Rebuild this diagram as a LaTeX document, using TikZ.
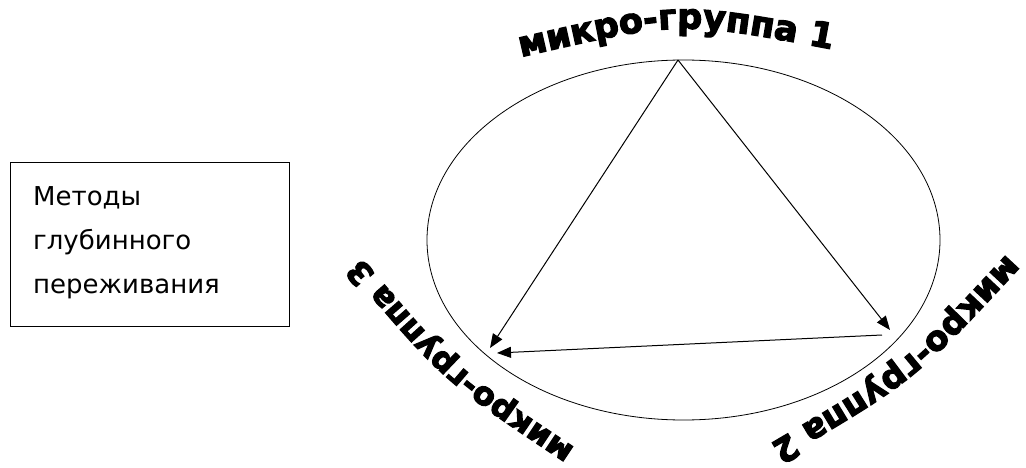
\documentclass[tikz,border=0pt]{standalone}
\usepackage{fontspec}
\newfontfamily\boxfont{DejaVu Sans}
\newfontfamily\lblfont[FakeBold=3.5]{DejaVu Sans Bold}
\usetikzlibrary{arrows.meta,shapes.geometric,decorations.text}
\begin{document}
\begin{tikzpicture}[x=1pt,y=-1pt,
  arr/.style={line width=1pt, -{Triangle[length=14pt,width=11pt]}},
  boxtxt/.style={anchor=base west, inner sep=0pt, font=\boxfont\fontsize{26pt}{30pt}\selectfont},
  lbl/.style={decorate, decoration={text along path, text align=left, text={#1}}}
]
\useasboundingbox (0,0) rectangle (1026,468);
% left box
\node[draw, line width=1pt, minimum width=279pt, minimum height=163pt, inner sep=0pt] (box) at (149.5,244.5) {};
\node[boxtxt] (t1) at (33,205) {Методы};
\node[boxtxt] (t2) at (33,249) {глубинного};
\node[boxtxt] (t3) at (33,293) {переживания};
% ellipse
\node[draw, ellipse, line width=0.8pt, minimum width=513pt, minimum height=360pt, inner sep=0pt] (ring) at (683.5,240) {};
% vertices
\coordinate (v1) at (678,60);
\coordinate (v2) at (890,330);
\coordinate (v2s) at (882,335);
\coordinate (v3) at (490,348);
\coordinate (v3e) at (497,353);
\draw[arr] (v1) -- (v2);
\draw[arr] (v1) -- (v3);
\draw[arr] (v2s) -- (v3e);
% curved labels
\path[lbl={|\lblfont\fontsize{35pt}{35pt}\selectfont|микро-группа 1}] (521,57) .. controls (679,20.5) .. (836,50) -- (866,56);
\path[lbl={|\lblfont\fontsize{34pt}{34pt}\selectfont|микро-группа 2}] (1007,254) .. controls (903,366) .. (770,444) -- (744,459);
\path[lbl={|\lblfont\fontsize{32pt}{32pt}\selectfont|микро-группа 3}] (575,448) .. controls (455,368) .. (361,257) -- (341.6,234.2);
\end{tikzpicture}
\end{document}
